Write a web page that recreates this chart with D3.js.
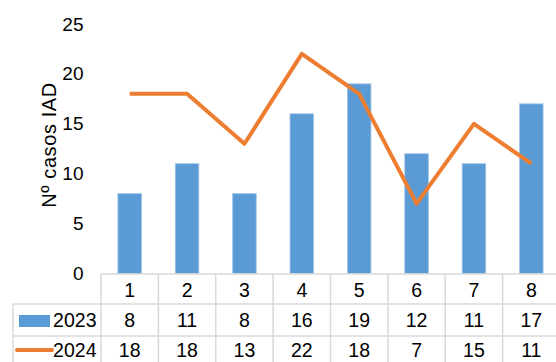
<!DOCTYPE html>
<html><head><meta charset="utf-8">
<script src="https://cdn.jsdelivr.net/npm/d3@7"></script>
<style>body{margin:0;background:#fff}svg{display:block}text{font-family:"Liberation Sans",Arial,sans-serif;fill:#000}</style>
</head><body>
<script>
const categories = ["1","2","3","4","5","6","7","8"];
const series2023 = [8,11,8,16,19,12,11,17];
const series2024 = [18,18,13,22,18,7,15,11];
const yTicks = [0,5,10,15,20,25];
const seriesNames = ["2023","2024"];
const yLabel = "Nº casos IAD";

const W = 556, H = 362;
const svg = d3.select("body").append("svg").attr("width", W).attr("height", H);
const x = d3.scaleBand().domain(categories).range([101, 560]).paddingInner(0).paddingOuter(0);
const y = d3.scaleLinear().domain([0,25]).range([273.5, 24]);
const blue = "#5B9BD5", orange = "#ED7D31", grid = "#d9d9d9";

// y tick labels
const yAxis = d3.axisLeft(y).tickValues(yTicks).tickSize(0).tickPadding(0);
const ga = svg.append("g").attr("transform","translate(83.5,0)").call(yAxis);
ga.select(".domain").remove();
ga.selectAll("text").attr("font-size",19).attr("font-family",'"Liberation Sans",Arial,sans-serif').attr("fill","#000");

// y label
svg.append("text").attr("transform","translate(56,145) rotate(-90)").attr("text-anchor","middle")
  .attr("font-size",20).attr("letter-spacing",0.6).text(yLabel);

// bars
const bw = x.bandwidth()*0.41;
svg.append("g").selectAll("rect").data(series2023).join("rect")
  .attr("x",(d,i)=>x(categories[i])+x.bandwidth()/2-bw/2)
  .attr("width",bw)
  .attr("y",d=>y(d)).attr("height",d=>y(0)-y(d))
  .attr("fill",blue).attr("stroke","#9dc3e6").attr("stroke-width",0.8);

// line
const line = d3.line().x((d,i)=>x(categories[i])+x.bandwidth()/2).y(d=>y(d));
svg.append("path").datum(series2024).attr("d",line).attr("fill","none")
  .attr("stroke",orange).attr("stroke-width",4).attr("stroke-linejoin","round").attr("stroke-linecap","butt");

// table
const rowY = [274, 304, 336, 370];
const tg = svg.append("g").attr("stroke",grid).attr("stroke-width",1.5);
tg.append("line").attr("x1",101).attr("x2",W).attr("y1",rowY[0]).attr("y2",rowY[0]);
tg.append("line").attr("x1",13).attr("x2",W).attr("y1",rowY[1]).attr("y2",rowY[1]);
tg.append("line").attr("x1",13).attr("x2",W).attr("y1",rowY[2]).attr("y2",rowY[2]);
tg.append("line").attr("x1",13).attr("x2",13).attr("y1",rowY[1]).attr("y2",H);
categories.forEach(c=>{
  tg.append("line").attr("x1",x(c)).attr("x2",x(c)).attr("y1",rowY[0]).attr("y2",H);
});
const rowsText = [categories, series2023, series2024];
const rowCenters = [297, 327.3, 357];
rowsText.forEach((row,ri)=>{
  svg.append("g").selectAll("text").data(row).join("text")
    .attr("x",(d,i)=>x(categories[i])+x.bandwidth()/2)
    .attr("y",rowCenters[ri]).attr("text-anchor","middle").attr("font-size",19.5).text(d=>d);
});
// legend keys
svg.append("rect").attr("x",19).attr("y",315).attr("width",31).attr("height",12).attr("fill",blue);
svg.append("line").attr("x1",17).attr("x2",52).attr("y1",350).attr("y2",350).attr("stroke",orange).attr("stroke-width",4).attr("stroke-linecap","round");
seriesNames.forEach((n,i)=>{
  svg.append("text").attr("x",96.5).attr("y",rowCenters[i+1]).attr("text-anchor","end").attr("font-size",19.5).text(n);
});
</script>
</body></html>
